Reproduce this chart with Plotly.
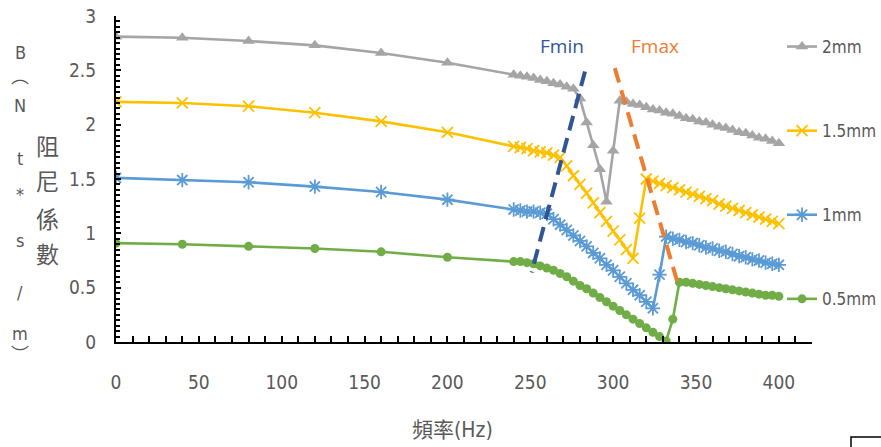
import plotly.graph_objects as go

freq = [0, 40, 80, 120, 160, 200,
        240, 244, 248, 252, 256, 260, 264, 268, 272, 276, 280, 284, 288, 292, 296,
        300, 304, 308, 312, 316, 320, 324, 328, 332, 336, 340, 344, 348, 352, 356,
        360, 364, 368, 372, 376, 380, 384, 388, 392, 396, 400]

b_2mm = [2.81, 2.80, 2.77, 2.73, 2.66, 2.57,
         2.46, 2.45, 2.44, 2.43, 2.41, 2.40, 2.38, 2.37, 2.35, 2.33,
         2.24, 2.02, 1.81, 1.59, 1.29, 1.76, 2.22,
         2.21, 2.19, 2.18, 2.16, 2.14, 2.13, 2.11, 2.10, 2.08, 2.06, 2.05, 2.03,
         2.02, 2.00, 1.98, 1.97, 1.95, 1.93, 1.92, 1.90, 1.88, 1.87, 1.85, 1.83]

b_15mm = [2.21, 2.20, 2.17, 2.11, 2.03, 1.93,
          1.80, 1.79, 1.78, 1.76, 1.75, 1.74, 1.72, 1.70,
          1.62, 1.53, 1.45, 1.37, 1.28, 1.19, 1.11, 1.02, 0.94, 0.85, 0.77,
          1.14, 1.50,
          1.48, 1.46, 1.44, 1.42, 1.40, 1.38, 1.36, 1.34, 1.32, 1.30,
          1.27, 1.25, 1.23, 1.21, 1.19, 1.17, 1.15, 1.13, 1.11, 1.09]

b_1mm = [1.51, 1.49, 1.47, 1.43, 1.38, 1.31,
         1.22, 1.21, 1.20, 1.20, 1.19, 1.18,
         1.13, 1.08, 1.03, 0.98, 0.93, 0.88, 0.82, 0.77, 0.71, 0.66, 0.60, 0.54,
         0.48, 0.43, 0.37, 0.31,
         0.62, 0.97,
         0.95, 0.94, 0.92, 0.91, 0.89, 0.87, 0.86, 0.84, 0.83, 0.81, 0.79, 0.78,
         0.76, 0.75, 0.73, 0.72, 0.71]

b_05mm = [0.91, 0.90, 0.88, 0.86, 0.83, 0.78,
          0.74, 0.74, 0.73, 0.72, 0.70, 0.68, 0.66, 0.63, 0.60, 0.56, 0.52, 0.49,
          0.45, 0.41, 0.37, 0.33, 0.29, 0.25, 0.21, 0.17, 0.13, 0.09, 0.05, 0.01,
          0.21,
          0.55, 0.55, 0.54, 0.53, 0.52, 0.51, 0.50, 0.49, 0.48, 0.47, 0.46, 0.45,
          0.44, 0.43, 0.43, 0.42]

series_names = ["2mm", "1.5mm", "1mm", "0.5mm"]

fmin_x = [283, 250.8]
fmin_y = [2.49, 0.64]
fmax_x = [301, 339]
fmax_y = [2.52, 0.54]

y_title_chars = ["B", "\ufe35", "N", "t", "*", "s", "/", "m", "\ufe36"]
y_title_cjk = ["阻", "尼", "係", "數"]
x_title = "頻率(Hz)"

NUM_FONT = "Liberation Sans Narrow, DejaVu Sans Condensed, Liberation Sans, Noto Sans CJK TC"
CJK_FONT = "Noto Sans CJK TC, Noto Sans CJK SC"
GRAY_TXT = "#595959"

W, H = 881, 447
L, R, T, B = 116, 812, 16, 342

def px(xp):
    return (xp - L) / (R - L)

def py(yp):
    return (B - yp) / (B - T)

fig = go.Figure()

styles = [
    dict(color="#A5A5A5", symbol="triangle-up", size=11, lw=0),
    dict(color="#FFC000", symbol="x-thin-open", size=11, lw=1.8),
    dict(color="#5B9BD5", symbol="asterisk-open", size=12, lw=1.8),
    dict(color="#70AD47", symbol="circle", size=9, lw=0),
]
data = [b_2mm, b_15mm, b_1mm, b_05mm]

for name, ys, st in zip(series_names, data, styles):
    fig.add_trace(go.Scatter(
        x=freq, y=ys, name=name, legendgroup=name, mode="lines+markers",
        line=dict(color=st["color"], width=2.6),
        marker=dict(symbol=st["symbol"], size=st["size"], color=st["color"],
                    line=dict(color=st["color"], width=st["lw"])),
    ))

fig.add_trace(go.Scatter(x=fmin_x, y=fmin_y, mode="lines", showlegend=False,
                         line=dict(color="#2F5597", width=4, dash="15px,8px")))
fig.add_trace(go.Scatter(x=fmax_x, y=fmax_y, mode="lines", showlegend=False,
                         line=dict(color="#ED7D31", width=4, dash="15px,8px")))

annotations = []
annotations.append(dict(x=px(562), y=py(46), xref="paper", yref="paper", text="Fmin",
                        showarrow=False, xanchor="center", yanchor="middle",
                        font=dict(family="Open Sans, Noto Sans", size=19, color="#2F5597")))
annotations.append(dict(x=px(655), y=py(46), xref="paper", yref="paper", text="Fmax",
                        showarrow=False, xanchor="center", yanchor="middle",
                        font=dict(family="Open Sans, Noto Sans", size=19, color="#ED7D31")))

y_char_pos = [52, 76, 106, 158, 194, 240, 292, 333, 354]
for ch, yp in zip(y_title_chars, y_char_pos):
    annotations.append(dict(x=px(20), y=py(yp), xref="paper", yref="paper", text=ch,
                            showarrow=False, xanchor="center", yanchor="middle",
                            font=dict(family=NUM_FONT, size=18, color=GRAY_TXT)))
cjk_pos = [145, 180, 218, 253]
for ch, yp in zip(y_title_cjk, cjk_pos):
    annotations.append(dict(x=px(47), y=py(yp), xref="paper", yref="paper", text=ch,
                            showarrow=False, xanchor="center", yanchor="middle",
                            font=dict(family=CJK_FONT, size=23, color=GRAY_TXT)))
annotations.append(dict(x=px(452), y=py(430), xref="paper", yref="paper", text=x_title,
                        showarrow=False, xanchor="center", yanchor="middle",
                        font=dict(family=NUM_FONT, size=21, color=GRAY_TXT)))

fig.update_layout(
    width=W, height=H,
    margin=dict(l=L, r=W - R, t=T, b=H - B, pad=0, autoexpand=False),
    paper_bgcolor="white", plot_bgcolor="white",
    annotations=annotations,
    showlegend=True,
    legend=dict(x=px(782), y=py(29), xanchor="left", yanchor="top",
                tracegroupgap=59, bgcolor="rgba(0,0,0,0)",
                font=dict(family=NUM_FONT, size=17, color=GRAY_TXT)),
    shapes=[dict(type="rect", xref="paper", yref="paper",
                 x0=px(851), x1=px(900), y0=py(437), y1=py(470),
                 line=dict(color="black", width=1.5))],
)

fig.update_xaxes(range=[0, 420], dtick=50, tick0=0, showgrid=False, zeroline=False,
                 showline=True, linecolor="black", linewidth=2,
                 ticks="inside", ticklen=6, tickcolor="black", tickwidth=2,
                 minor=dict(dtick=10, ticks="inside", ticklen=6, tickcolor="black", tickwidth=2, showgrid=False),
                 ticklabelstandoff=22,
                 tickfont=dict(family=NUM_FONT, size=19, color=GRAY_TXT))
fig.update_yaxes(range=[0, 3], dtick=0.5, tick0=0, showgrid=False, zeroline=False,
                 showline=True, linecolor="black", linewidth=2,
                 ticks="inside", ticklen=5, tickcolor="black", tickwidth=2,
                 minor=dict(dtick=0.05, ticks="inside", ticklen=4, tickcolor="black", tickwidth=1.5, showgrid=False),
                 ticklabelstandoff=14,
                 tickfont=dict(family=NUM_FONT, size=19, color=GRAY_TXT))

fig.write_html("out.html", config={"displayModeBar": False},
               post_script="document.body.style.margin='0';document.body.style.overflow='hidden';")
